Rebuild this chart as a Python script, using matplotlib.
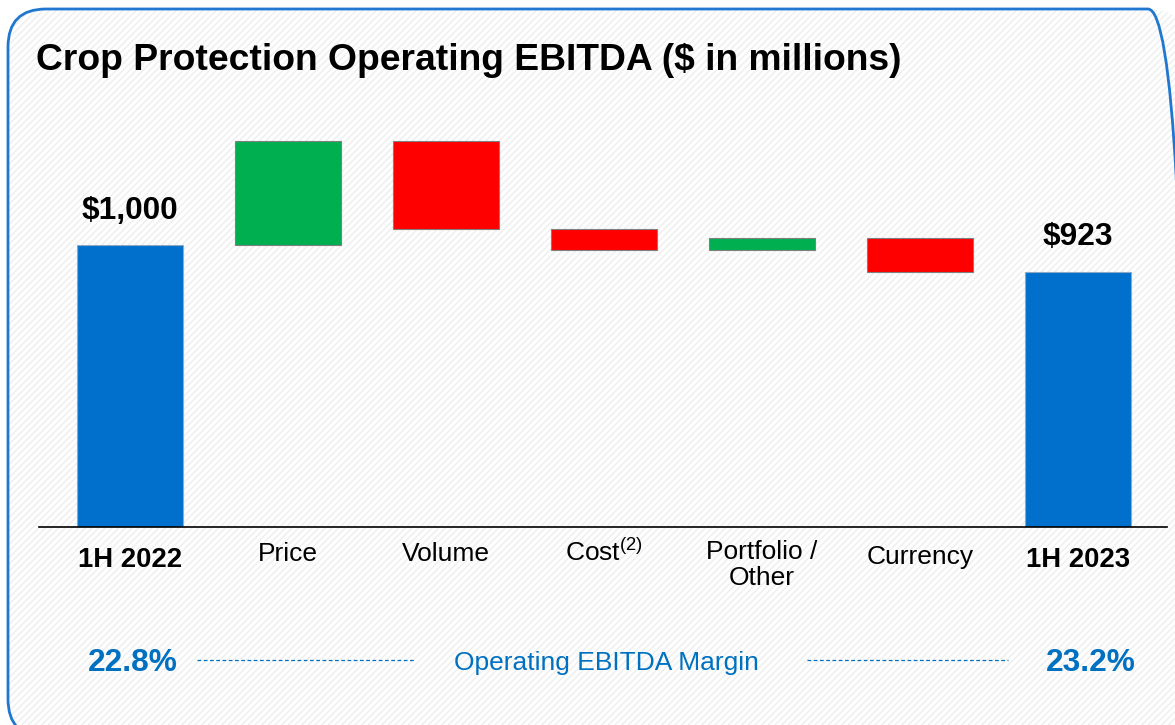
import matplotlib
matplotlib.use("Agg")
import matplotlib.pyplot as plt
from matplotlib.patches import FancyBboxPatch
from matplotlib.transforms import IdentityTransform, blended_transform_factory
import numpy as np

# --- DATA ---
categories = ["1H 2022", "Price", "Volume", "Cost$^{(2)}$", "Portfolio /\nOther", "Currency", "1H 2023"]
start_value = 1000
changes = [297, -251, -60, 34, -97]
end_value = 923
value_labels = ["$1,000", "$923"]
margins = ["22.8%", "23.2%"]
margin_title = "Operating EBITDA Margin"
title = "Crop Protection Operating EBITDA ($ in millions)"

# layout: label centre rows (px from top), like the slide's text boxes
label_rows = [560, 554, 554, 552, 565, 557, 560]

BLUE = "#0070CC"
GREEN = "#00B050"
RED = "#FF0000"
TEXT_BLUE = "#0070C0"

plt.rcParams["font.family"] = ["Liberation Sans", "DejaVu Sans"]
plt.rcParams["mathtext.fontset"] = "custom"
plt.rcParams["mathtext.rm"] = "Liberation Sans"
plt.rcParams["mathtext.it"] = "Liberation Sans"

W, H = 1175, 725
fig = plt.figure(figsize=(W / 100, H / 100), dpi=100)

# --- BACKGROUND BOX (pixel coords, origin bottom left) ---
box_xy = (8, -12)
box_w, box_h = 1178, 728
bg = FancyBboxPatch(box_xy, box_w, box_h, boxstyle="round,pad=0,rounding_size=38",
                    transform=IdentityTransform(), facecolor="white",
                    edgecolor="#EEEEEE", hatch="/////", linewidth=0, zorder=0)
fig.patches.append(bg)
border = FancyBboxPatch(box_xy, box_w, box_h, boxstyle="round,pad=0,rounding_size=38",
                        transform=IdentityTransform(), facecolor="none",
                        edgecolor="#1F77D0", linewidth=2, zorder=1)
fig.patches.append(border)

fig.text(36 / W, 1 - 61 / H, title, fontsize=26.8, fontweight="bold",
         ha="left", va="center", zorder=3)

# --- WATERFALL ---
ax = fig.add_axes([39 / W, 198 / H, 1128 / W, 427 / H])
ax.set_zorder(2)
ax.patch.set_alpha(0)

x = np.arange(len(categories))
width = 0.67
levels = np.concatenate([[start_value], start_value + np.cumsum(changes)])

ax.bar(x[0], start_value, width, color=BLUE, edgecolor="#8FA8C8", linewidth=0.8, zorder=2)
ax.bar(x[-1], end_value, width, color=BLUE, edgecolor="#8FA8C8", linewidth=0.8, zorder=2)
for i, ch in enumerate(changes):
    bottom = levels[i] if ch > 0 else levels[i] + ch
    ax.bar(x[i + 1], abs(ch), width, bottom=bottom,
           color=GREEN if ch > 0 else RED, edgecolor="#7F7F7F", linewidth=0.8, zorder=2)

ax.text(x[0], start_value + 97, value_labels[0], ha="center", va="center",
        fontsize=22.8, fontweight="bold")
ax.text(x[-1], end_value + 99, value_labels[1], ha="center", va="center",
        fontsize=22.8, fontweight="bold")

ax.set_xlim(-0.576, 6.563)
ax.set_ylim(196, 1414)
ax.set_yticks([])
ax.set_xticks([])
for s in ["top", "left", "right"]:
    ax.spines[s].set_visible(False)
ax.spines["bottom"].set_linewidth(1.2)
ax.spines["bottom"].set_zorder(3)

# category labels under the axis
trans = blended_transform_factory(ax.transData, fig.transFigure)
for i, (cat, row) in enumerate(zip(categories, label_rows)):
    bold = i in (0, len(categories) - 1)
    ax.text(x[i], 1 - row / H, cat, transform=trans, ha="center", va="center",
            fontsize=19.8 if bold else 19, fontweight="bold" if bold else "normal",
            linespacing=1.15, clip_on=False)

# --- MARGIN ROW ---
yrow = 1 - 663 / H
fig.text(133 / W, yrow, margins[0], color=TEXT_BLUE, fontsize=22.8,
         fontweight="bold", ha="center", va="center", zorder=3)
fig.text(1091 / W, yrow, margins[1], color=TEXT_BLUE, fontsize=22.8,
         fontweight="bold", ha="center", va="center", zorder=3)
fig.text(606 / W, yrow, margin_title, color=TEXT_BLUE, fontsize=19,
         ha="center", va="center", zorder=3)
yl = 1 - 660 / H
fig.add_artist(plt.Line2D([197 / W, 415 / W], [yl, yl], color=TEXT_BLUE,
                          linestyle=(0, (3, 2)), linewidth=0.9, zorder=3))
fig.add_artist(plt.Line2D([807 / W, 1008 / W], [yl, yl], color=TEXT_BLUE,
                          linestyle=(0, (3, 2)), linewidth=0.9, zorder=3))

fig.savefig("out.png", dpi=100)
